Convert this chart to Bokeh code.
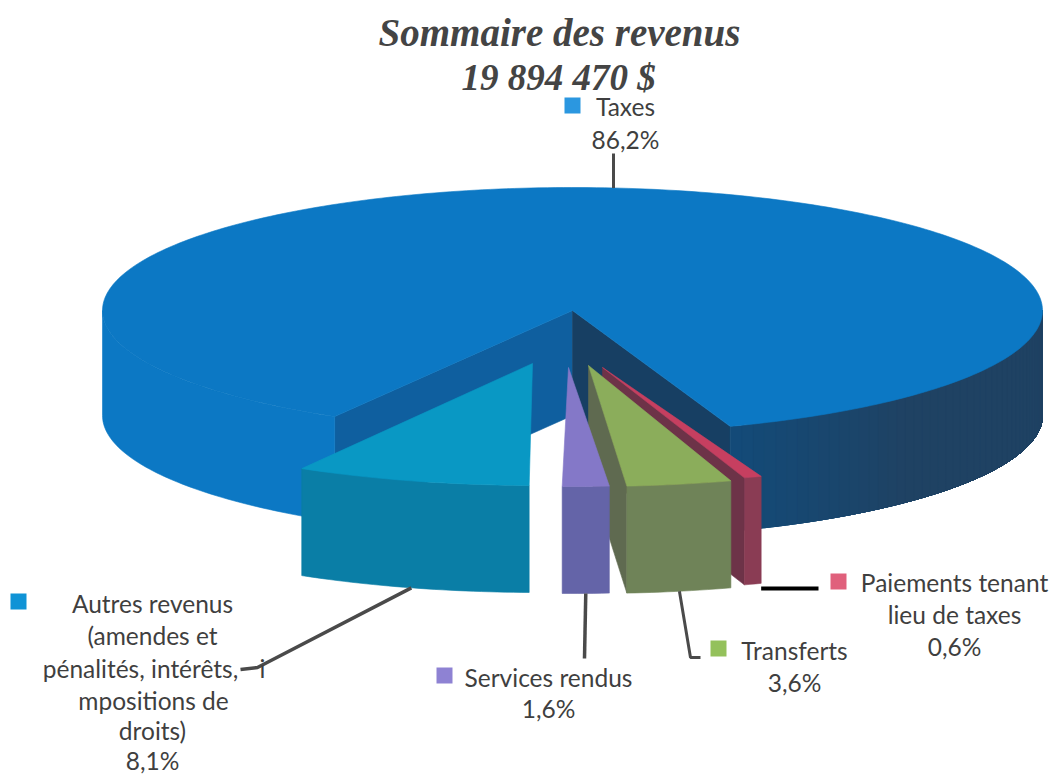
import math
from bokeh.plotting import figure
from bokeh.models import Range1d
from bokeh.core.properties import value
from bokeh.embed import file_html
from bokeh.resources import INLINE

# ---- data
title_lines = ["Sommaire des revenus", "19 894 470 $"]
slice_names = ["Paiements tenant lieu de taxes", "Transferts", "Services rendus", "Autres revenus", "Taxes"]
slice_pct = [0.6, 3.6, 1.6, 8.1, 86.2]
pct_labels = ["0,6%", "3,6%", "1,6%", "8,1%", "86,2%"]

# ---- geometry / style (pixels of the page)
CX, CY, RX, RY = 572, 310, 470, 123
DEPTH = 105
SLICE_DEPTH = 107
START = 19.6
rim_shift = [(31, 50), (17.5, 53), (0, 53), (-33, 52)]
apex_shift = [(30, 57), (16, 55), (-4, 57), (-40, 53)]
top_col = ["#c63f60", "#8bad5b", "#8478c8", "#0998c4"]
rim_col = ["#8a3c54", "#6f8358", "#6464a8", "#0a7ea6"]
face_col = ["#6d3348", "#5f6a50", None, None]
swatch_col = ["#e0607c", "#94c15b", "#8e82d3", "#0f93d6", "#2b97e0"]
TOP_BLUE = "#0c78c4"
TEXT = "#3f3f3f"

total = sum(slice_pct)
edges = [START]
for v in slice_pct:
    edges.append(edges[-1] - v / total * 360)


def pt(theta, dx=0.0, dy=0.0):
    t = math.radians(theta)
    return CX + RX * math.sin(t) + dx, CY + RY * math.cos(t) + dy


def arc(t0, t1, dx=0.0, dy=0.0, step=1.0):
    n = max(2, int(abs(t1 - t0) / step) + 1)
    return [pt(t0 + (t1 - t0) * i / n, dx, dy) for i in range(n + 1)]


p = figure(width=1052, height=777, x_range=Range1d(0, 1052), y_range=Range1d(777, 0),
           output_backend="svg", toolbar_location=None, min_border=0)
p.axis.visible = False
p.grid.visible = False
p.outline_line_color = None
p.background_fill_color = "white"


def poly(points, color):
    p.patch([q[0] for q in points], [q[1] for q in points], fill_color=color,
            line_color=color, line_width=0.6)


def mix(c0, c1, f):
    a = [int(c0[i:i + 2], 16) for i in (1, 3, 5)]
    b = [int(c1[i:i + 2], 16) for i in (1, 3, 5)]
    return "#%02x%02x%02x" % tuple(round(a[i] + (b[i] - a[i]) * f) for i in range(3))


# Taxes: cut faces, outer side, then top
t_a, t_b = edges[4], edges[5]
apex = (CX, CY)
apex_low = (CX, CY + DEPTH)
q = pt(t_a)
poly([apex, q, (q[0], q[1] + DEPTH), apex_low], "#0f5f9f")
q = pt(START)
poly([apex, q, (q[0], q[1] + DEPTH), apex_low], "#173f63")

# left part of the outer side: one piece, same tone as the top
s = arc(t_a, -90)
poly(s + [(x, y + DEPTH) for x, y in reversed(s)], TOP_BLUE)
# right part of the outer side: overlapping bands, so no seams appear
t = START
while t < 90:
    s = arc(t, 90)
    f = min(1.0, (t - START) / 25)
    poly(s + [(x, y + DEPTH) for x, y in reversed(s)], mix("#134a78", "#1f4263", f))
    t += 1.5
poly([apex] + arc(t_a, t_b), TOP_BLUE)

# exploded slices, drawn back to front
for i in (0, 3, 1, 2):
    t0, t1 = edges[i], edges[i + 1]
    rx, ry = rim_shift[i]
    ax, ay = apex_shift[i]
    a_top = (CX + ax, CY + ay)
    a_low = (a_top[0], a_top[1] + SLICE_DEPTH)
    rim = arc(t0, t1, rx, ry)
    if face_col[i]:
        e = rim[-1]
        poly([a_top, e, (e[0], e[1] + SLICE_DEPTH), a_low], face_col[i])
    poly(rim + [(x, y + SLICE_DEPTH) for x, y in reversed(rim)], rim_col[i])
    poly([a_top] + rim, top_col[i])

# leaders, anchored on the slices
anchor = []
for i in range(5):
    mid = (edges[i] + edges[i + 1]) / 2
    if i == 4:
        anchor.append((613, pt(mid)[1]))
    elif i == 0:
        anchor.append((pt(edges[0], rim_shift[0][0], 0)[0], 588))
    else:
        anchor.append(pt(mid, rim_shift[i][0], rim_shift[i][1] + SLICE_DEPTH))
elbows = [[(818, 588)], [(690, 657), (700, 657)], [(584, 658)], [(257, 667), (240, 669)], [(613, 153)]]
leader_w = [4, 3, 3.5, 3.5, 3]
leader_c = ["#000000", "#4a4a4a", "#4a4a4a", "#4a4a4a", "#4a4a4a"]
for i in range(5):
    path = [anchor[i]] + elbows[i]
    p.line([q[0] for q in path], [q[1] for q in path], line_color=leader_c[i], line_width=leader_w[i])


def label(x, y, s, size=24.5, color=TEXT, font="Lato", style="normal"):
    p.text([x], [y], text=[s], text_align="center", text_baseline="middle",
           text_color=color, text_font=value(font), text_font_size=f"{size}px", text_font_style=style)


# title
label(559, 32, title_lines[0], 39, "#444444", "Liberation Serif", "bold italic")
label(558, 77, title_lines[1], 37, "#444444", "Liberation Serif", "bold italic")

# legend squares
swatch_x = [838, 718, 444, 18, 572]
swatch_y = [581, 648, 675, 601, 105]
p.scatter(swatch_x, swatch_y, marker="square", size=16, fill_color=swatch_col, line_color=None)

# labels
label(954, 582, "Paiements tenant")
label(954, 614, "lieu de taxes")
label(954, 646, pct_labels[0])
label(794, 650, "Transferts")
label(794, 682, pct_labels[1])
label(548, 677, "Services rendus")
label(548, 708, pct_labels[2])
label(152, 603, "Autres revenus")
label(152, 635, "(amendes et")
label(140, 668, "pénalités, intérêts,")
label(262, 668, "i")
label(153, 700, "mpositions de")
label(152, 730, "droits)")
label(152, 760, pct_labels[3])
label(625, 106, "Taxes")
label(625, 139, pct_labels[4])

open("out.html", "w").write(file_html(p, INLINE))
